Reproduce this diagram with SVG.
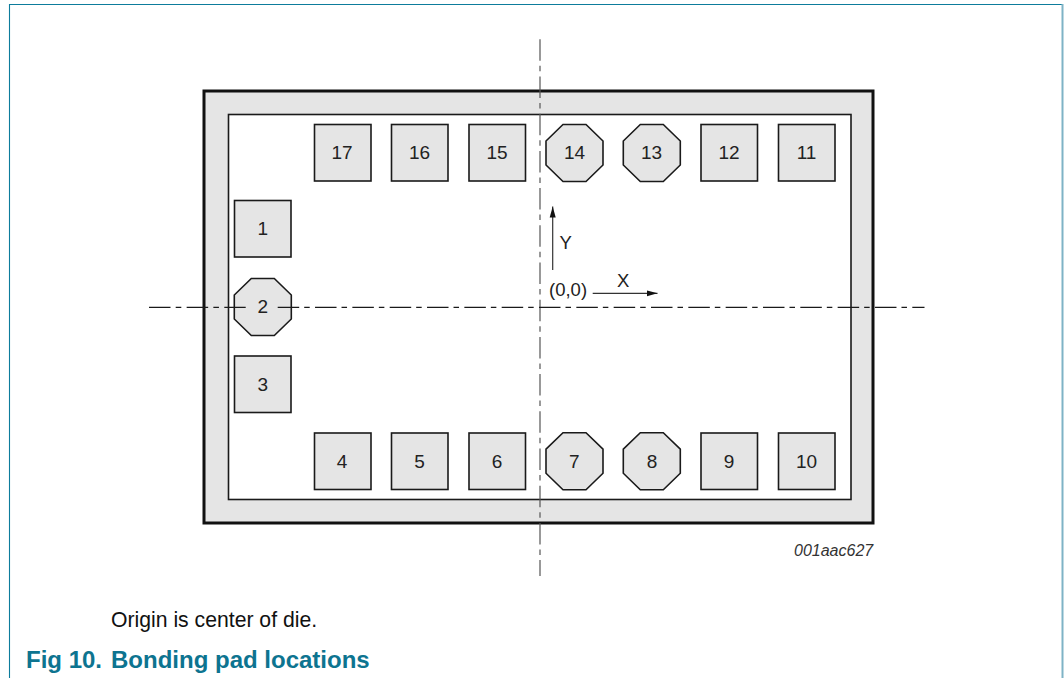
<svg xmlns="http://www.w3.org/2000/svg" width="1064" height="678" viewBox="0 0 1064 678">
<defs>
<style>
.pad{fill:#e5e5e5;stroke:#1a1a1a;stroke-width:1.6}
.lbl{font-family:"Liberation Sans",Arial,sans-serif;font-size:19px;fill:#222;text-anchor:middle}
.txt{font-family:"Liberation Sans",Arial,sans-serif;font-size:18.5px;fill:#222}
.cl{fill:none;stroke:#1a1a1a;stroke-width:1.2;stroke-dasharray:21.5 5 5.5 5.33}
.ax{fill:none;stroke:#333;stroke-width:1.2}
</style>
<marker id="ah" markerUnits="userSpaceOnUse" markerWidth="12" markerHeight="7" refX="11" refY="3.500" orient="auto"><path d="M0 .5L11 3.500L0 6.500Z" fill="#111"/></marker>
<polygon id="oct" points="17,0 40,0 57,16.500 57,40.500 40,57 17,57 0,40.500 0,16.500"/>
</defs>
<rect width="1064" height="678" fill="#fff"/>
<path d="M9.500 678V4.500H1062.500" fill="none" stroke="#0d7c9c" stroke-width="1.100"/>
<path d="M1062.500 4V678" fill="none" stroke="#7fb3c6" stroke-width="2"/>
<g id="die">
<rect x="204" y="91" width="669" height="432" fill="#e5e5e5" stroke="#111" stroke-width="3"/>
<rect x="228.500" y="114.500" width="622.500" height="385" fill="#fff" stroke="#1a1a1a" stroke-width="1.600"/>
</g>
<g id="pad-17"><rect class="pad" x="314.500" y="124.500" width="56.500" height="56.500"/><text class="lbl" x="342" y="159.300">17</text></g>
<g id="pad-16"><rect class="pad" x="391.500" y="124.500" width="56.500" height="56.500"/><text class="lbl" x="419.500" y="159.300">16</text></g>
<g id="pad-15"><rect class="pad" x="469" y="124.500" width="56.500" height="56.500"/><text class="lbl" x="497" y="159.300">15</text></g>
<g id="pad-14"><use href="#oct" class="pad" x="546" y="124.500"/><text class="lbl" x="574.500" y="159.300">14</text></g>
<g id="pad-13"><use href="#oct" class="pad" x="623.300" y="124.500"/><text class="lbl" x="651.500" y="159.300">13</text></g>
<g id="pad-12"><rect class="pad" x="701" y="124.500" width="56.500" height="56.500"/><text class="lbl" x="729" y="159.300">12</text></g>
<g id="pad-11"><rect class="pad" x="778.500" y="124.500" width="56.500" height="56.500"/><text class="lbl" x="806.500" y="159.300">11</text></g>
<g id="pad-1"><rect class="pad" x="234.500" y="200.500" width="56.500" height="56.500"/><text class="lbl" x="262.700" y="235.300">1</text></g>
<g id="pad-2"><use href="#oct" class="pad" x="234.300" y="278.500"/><text class="lbl" x="262.700" y="313">2</text></g>
<g id="pad-3"><rect class="pad" x="234.500" y="356" width="56.500" height="56.500"/><text class="lbl" x="262.700" y="390.800">3</text></g>
<g id="pad-4"><rect class="pad" x="314.500" y="433" width="56.500" height="56.500"/><text class="lbl" x="342" y="468">4</text></g>
<g id="pad-5"><rect class="pad" x="391.500" y="433" width="56.500" height="56.500"/><text class="lbl" x="419.500" y="468">5</text></g>
<g id="pad-6"><rect class="pad" x="469" y="433" width="56.500" height="56.500"/><text class="lbl" x="497" y="468">6</text></g>
<g id="pad-7"><use href="#oct" class="pad" x="546" y="432.700"/><text class="lbl" x="574.300" y="468">7</text></g>
<g id="pad-8"><use href="#oct" class="pad" x="623.300" y="432.700"/><text class="lbl" x="652" y="468">8</text></g>
<g id="pad-9"><rect class="pad" x="701" y="433" width="56.500" height="56.500"/><text class="lbl" x="729" y="468">9</text></g>
<g id="pad-10"><rect class="pad" x="778.500" y="433" width="56.500" height="56.500"/><text class="lbl" x="806.500" y="468">10</text></g>
<g id="connectors">
<path class="cl" style="stroke:#555;stroke-dasharray:21.5 5 5.5 5.2" d="M540 39.300V576"/>
<path class="cl" style="stroke-dasharray:21.5 5.2 5.6 5.35" d="M149 307.300H245.700"/>
<path class="cl" d="M277.700 307.300H924.500"/>
<path class="ax" d="M552.700 270V206.500" marker-end="url(#ah)"/>
<path class="ax" d="M592.700 293.300H657.500" marker-end="url(#ah)"/>
</g>
<text class="txt" x="559.500" y="249.300">Y</text>
<text class="txt" x="549" y="296">(0,0)</text>
<text class="txt" x="617" y="286.700">X</text>
<text x="794" y="556" font-family="'Liberation Sans',Arial,sans-serif" font-size="16" font-style="italic" fill="#333">001aac627</text>
<text x="111" y="626.500" font-family="'Liberation Sans',Arial,sans-serif" font-size="21.2" fill="#111">Origin is center of die.</text>
<text x="26" y="668.300" font-family="'Liberation Sans',Arial,sans-serif" font-size="24" font-weight="bold" fill="#0d7490">Fig 10.</text>
<text x="111" y="668.300" font-family="'Liberation Sans',Arial,sans-serif" font-size="24" font-weight="bold" fill="#0d7490">Bonding pad locations</text>
</svg>
